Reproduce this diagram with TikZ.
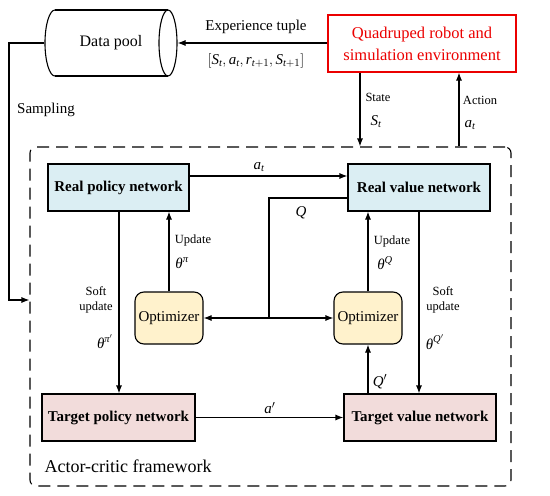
\documentclass[tikz,border=0pt]{standalone}
\usepackage{amsmath}
\usepackage{fontspec}
\setmainfont{Liberation Serif}
\usetikzlibrary{shapes.geometric,arrows.meta,calc}
\newcommand\mvar[1]{\textit{#1}}
\definecolor{pblue}{RGB}{219,238,243}
\definecolor{ppink}{RGB}{242,220,219}
\definecolor{pyell}{RGB}{255,242,204}
\definecolor{pred}{RGB}{235,0,0}
\begin{document}
\begin{tikzpicture}[x=1pt,y=-1pt,line width=1.1pt,
  arr/.style={-{Latex[length=8pt,width=6pt]}},
  net/.style={draw,minimum height=47pt,font=\fontsize{15}{18}\selectfont\bfseries},
  opt/.style={draw,fill=pyell,rounded corners=9pt,minimum width=68pt,minimum height=52pt,font=\fontsize{15}{18}\selectfont},
  lbl/.style={font=\fontsize{12.5}{15}\selectfont,inner sep=0pt},
  mlbl/.style={font=\fontsize{15}{18}\selectfont,inner sep=0pt}]
\useasboundingbox (0,0) rectangle (550,496);
% frame
\node[draw,dashed,dash pattern=on 12pt off 7pt,rounded corners=6pt,minimum width=481pt,minimum height=339pt,inner sep=0pt] (fr) at (270.5,316.5) {};
\node[font=\fontsize{18}{21}\selectfont,anchor=west,inner sep=0pt] (acf) at (44,466) {Actor-critic framework};
% data pool (horizontal cylinder)
\node[minimum width=132pt,minimum height=66pt,inner sep=0pt,font=\fontsize{16}{19}\selectfont] (dp) at (111,43) {Data pool};
\draw (55,10) -- (168,10);
\draw (55,76) -- (168,76);
\draw (55,10) arc[start angle=270,end angle=90,x radius=10,y radius=33];
\draw (168,43) ellipse[x radius=9,y radius=33];
\node[draw=pred,text=pred,minimum width=188pt,minimum height=57pt,align=center,inner sep=0pt,font=\fontsize{16.5}{22}\selectfont] (env) at (422,43.5) {Quadruped robot and\\simulation environment};
% networks
\node[net,fill=pblue,minimum width=141pt] (rp) at (118.5,187.5) {Real policy network};
\node[net,fill=pblue,minimum width=142pt] (rv) at (419,187.5) {Real value network};
\node[net,fill=ppink,minimum width=153pt] (tp) at (118.5,417.5) {Target policy network};
\node[net,fill=ppink,minimum width=152pt] (tv) at (420,417.5) {Target value network};
\node[opt] (o1) at (169,318) {Optimizer};
\node[opt] (o2) at (368,318) {Optimizer};
% coordinates
\coordinate (stX) at (360,0);
\coordinate (acX) at (459,0);
\coordinate (sampY) at (0,300);
\coordinate (sampX) at (9,0);
\coordinate (atY) at (0,176);
\coordinate (qY) at (0,198);
\coordinate (qJ) at (269,318);
\coordinate (s1X) at (119,0);
\coordinate (s2X) at (419,0);
% connectors
\draw[arr] (env.west |- dp.east) -- (dp.east);
\draw[arr] (dp.west) -- (dp.west -| sampX) -- (sampX |- sampY) -- (fr.west |- sampY);
\draw[arr] (env.south -| stX) -- (fr.north -| stX);
\draw[arr] (fr.north -| acX) -- (env.south -| acX);
\draw[arr] (rp.east |- atY) -- (rv.west |- atY);
\draw (rv.west |- qY) -| (qJ);
\draw[arr] (qJ) -- (o1.east);
\draw[arr] (qJ) -- (o2.west);
\draw[arr] (o1.north) -- (rp.south -| o1.north);
\draw[arr] (o2.north) -- (rv.south -| o2.north);
\draw[arr] (rp.south -| s1X) -- (tp.north -| s1X);
\draw[arr] (rv.south -| s2X) -- (tv.north -| s2X);
\draw[arr] (tp.east) -- (tv.west);
\draw[arr] (tv.north -| o2.south) -- (o2.south);
% labels
\node[font=\fontsize{15}{18}\selectfont,inner sep=0pt] (l1) at (256,27) {Experience tuple};
\node[mlbl] (l2) at (256,61) {$\left[\mvar{S}_{\mvar{t}},\mvar{a}_{\mvar{t}},\mvar{r}_{\mvar{t}+1},\mvar{S}_{\mvar{t}+1}\right]$};
\node[font=\fontsize{15}{18}\selectfont,inner sep=0pt] (l3) at (46,110) {Sampling};
\node[lbl] (l4) at (378,97) {State};
\node[mlbl] (l5) at (376,122) {$\mvar{S}_{\mvar{t}}$};
\node[lbl] (l6) at (480,100) {Action};
\node[mlbl] (l7) at (470,125) {$\mvar{a}_{\mvar{t}}$};
\node[mlbl] (l8) at (259,167) {$\mvar{a}_{\mvar{t}}$};
\node[mlbl] (l9) at (301,213) {$\mvar{Q}$};
\node[lbl] (l10) at (193,240) {Update};
\node[mlbl] (l11) at (182,263) {$\mvar{θ}^{\mvar{π}}$};
\node[lbl] (l12) at (392,241) {Update};
\node[mlbl] (l13) at (385,263) {$\mvar{θ}^{\mvar{Q}}$};
\node[lbl,align=center] (l14) at (96,300) {Soft\\update};
\node[mlbl] (l15) at (105,342) {$\mvar{θ}^{\mvar{π}'}$};
\node[lbl,align=center] (l16) at (443,300) {Soft\\update};
\node[mlbl] (l17) at (435,342) {$\mvar{θ}^{\mvar{Q}'}$};
\node[mlbl] (l18) at (270,408) {$\mvar{a}'$};
\node[mlbl] (l19) at (380,382) {$\mvar{Q}'$};
\end{tikzpicture}
\end{document}
